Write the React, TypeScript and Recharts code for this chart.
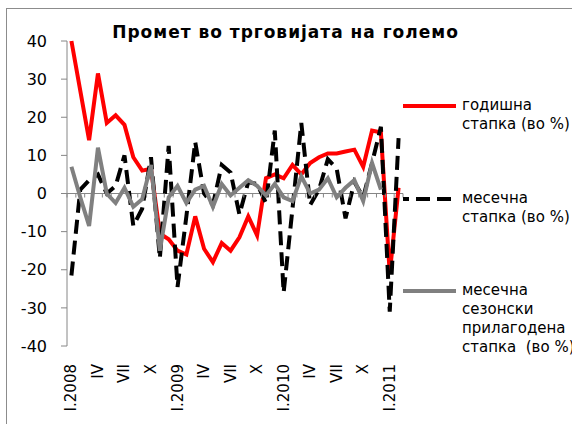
import React from 'react'
import { LineChart, Line, XAxis, YAxis, ReferenceLine } from 'recharts'

const MONTHS = [
  'I.2008', 'II', 'III', 'IV', 'V', 'VI', 'VII', 'VIII', 'IX', 'X', 'XI', 'XII',
  'I.2009', 'II', 'III', 'IV', 'V', 'VI', 'VII', 'VIII', 'IX', 'X', 'XI', 'XII',
  'I.2010', 'II', 'III', 'IV', 'V', 'VI', 'VII', 'VIII', 'IX', 'X', 'XI', 'XII',
  'I.2011', 'II',
]

// годишна стапка
const ANNUAL = [
  40, 27, 14, 31.5, 18.5, 20.5, 18, 9.5, 6, 6.5, -10.5, -12,
  -15, -16, -6, -14.5, -18, -13, -15, -11.5, -6, -11, 4, 5,
  4, 7.5, 5, 8, 9.5, 10.5, 10.5, 11, 11.5, 7, 16.5, 16,
  -21, 1.5,
]

// месечна стапка
const MONTHLY = [
  -21.5, 1, 3.5, 5, 0, 2, 10, -8.5, -4, 9.5, -17, 12.5,
  -24.5, -6, 13.5, 0, -3, 7.5, 5.5, -5.5, 3, 2.5, -2.5, 16.5,
  -26, -4, 18.5, -3, 1, 9, 6.5, -6.5, 3, -1, 8, 17.5,
  -31, 14.5,
]

// месечна сезонски прилагодена стапка (до XII.2010)
const SEASONAL = [
  7, -1, -8.5, 12, 0, -2.5, 1.5, -3.5, -1.5, 7.5, -15, -1,
  2, -2.5, 1, 2, -3.5, 2.5, -0.5, 1.5, 3.5, 2, -0.5, 2.5,
  -1, -2, 4.5, 0, 1, 4, -1, 1.5, 3.5, -2, 8, 1,
]

const Y_TICKS = [-40, -30, -20, -10, 0, 10, 20, 30, 40]

const LEGEND = [
  { label: ['годишна', 'стапка (во %)'], color: '#ff0000', dash: undefined, top: 96 },
  { label: ['месечна', 'стапка (во %)'], color: '#000000', dash: '14 7', top: 189 },
  { label: ['месечна', 'сезонски', 'прилагодена', 'стапка  (во %)'], color: '#808080', dash: undefined, top: 281 },
]

const data = MONTHS.map((m, i) => ({
  month: m,
  annual: ANNUAL[i],
  monthly: MONTHLY[i],
  seasonal: i < SEASONAL.length ? SEASONAL[i] : null,
}))

const W = 572
const H = 424
const MARGIN = { top: 41, right: 169, bottom: 0, left: 0 }
const Y_AXIS_W = 67
const X_AXIS_H = 78
const PLOT_W = W - MARGIN.right - Y_AXIS_W
const PLOT_H = H - MARGIN.top - X_AXIS_H
const STEP = PLOT_W / MONTHS.length
const ZERO_Y = MARGIN.top + PLOT_H / 2
const AXIS_COLOR = '#868686'
const FONT = '"DejaVu Sans", Verdana, sans-serif'

const MonthTick = (props: any) => {
  const { x, payload, index } = props
  const half = STEP / 2
  const lx = x + 5
  const ly = 364
  return (
    <g>
      <line x1={x - half} x2={x - half} y1={ZERO_Y} y2={ZERO_Y + 4} stroke={AXIS_COLOR} />
      {index === MONTHS.length - 1 && (
        <line x1={x + half} x2={x + half} y1={ZERO_Y} y2={ZERO_Y + 4} stroke={AXIS_COLOR} />
      )}
      {index % 3 === 0 && (
        <text
          x={lx}
          y={ly}
          transform={`rotate(-90 ${lx} ${ly})`}
          textAnchor="end"
          fontSize={15}
          fontFamily={FONT}
          fill="#000"
        >
          {payload.value}
        </text>
      )}
    </g>
  )
}

const ChartLegend = () => (
  <div style={{ position: 'absolute', left: 403, top: 95, width: 170, height: 300, fontFamily: FONT, fontSize: 15, color: '#000' }}>
    {LEGEND.map((item) => (
      <div key={item.label.join(' ')} style={{ position: 'absolute', left: 0, top: item.top - 95 }}>
        <svg width={56} height={20} style={{ position: 'absolute', left: 0, top: 0 }}>
          <line
            x1={0}
            x2={53}
            y1={10}
            y2={10}
            stroke={item.color}
            strokeWidth={4}
            strokeDasharray={item.dash}
            strokeDashoffset={item.dash ? 8 : undefined}
          />
        </svg>
        <div style={{ position: 'absolute', left: 59, top: 0, lineHeight: '19px', whiteSpace: 'pre' }}>
          {item.label.map((l) => (
            <div key={l}>{l}</div>
          ))}
        </div>
      </div>
    ))}
  </div>
)

export default function App() {
  return (
    <div style={{ position: 'absolute', left: 0, top: 0, width: W, height: H, overflow: 'hidden', background: '#fff' }}>
      <div
        style={{
          position: 'absolute',
          left: 6,
          top: 8,
          width: 620,
          height: 460,
          border: '1px solid #8c8c8c',
        }}
      />
      <div
        style={{
          position: 'absolute',
          left: 0,
          top: 22,
          width: 571,
          textAlign: 'center',
          fontFamily: FONT,
          fontWeight: 'bold',
          fontSize: 17,
          letterSpacing: 1,
          whiteSpace: 'nowrap',
        }}
      >
        Промет во трговијата на големо
      </div>
      <div style={{ position: 'absolute', left: 0, top: 0 }}>
        <LineChart width={W} height={H} data={data} margin={MARGIN}>
          <YAxis
            width={Y_AXIS_W}
            domain={[-40, 40]}
            ticks={Y_TICKS}
            interval={0}
            stroke={AXIS_COLOR}
            tickSize={6}
            tickMargin={14}
            tick={{ fill: '#000', fontSize: 16, fontFamily: FONT }}
          />
          <XAxis
            dataKey="month"
            height={X_AXIS_H}
            interval={0}
            axisLine={false}
            tickLine={false}
            padding={{ left: STEP / 2, right: STEP / 2 }}
            tick={<MonthTick />}
          />
          <ReferenceLine y={0} stroke={AXIS_COLOR} strokeWidth={1} />
          <Line
            dataKey="annual"
            stroke="#ff0000"
            strokeWidth={4}
            dot={false}
            isAnimationActive={false}
          />
          <Line
            dataKey="monthly"
            stroke="#000000"
            strokeWidth={4}
            strokeDasharray="14 7"
            dot={false}
            isAnimationActive={false}
          />
          <Line
            dataKey="seasonal"
            stroke="#808080"
            strokeWidth={4}
            dot={false}
            connectNulls={false}
            isAnimationActive={false}
          />
        </LineChart>
      </div>
      <ChartLegend />
    </div>
  )
}
